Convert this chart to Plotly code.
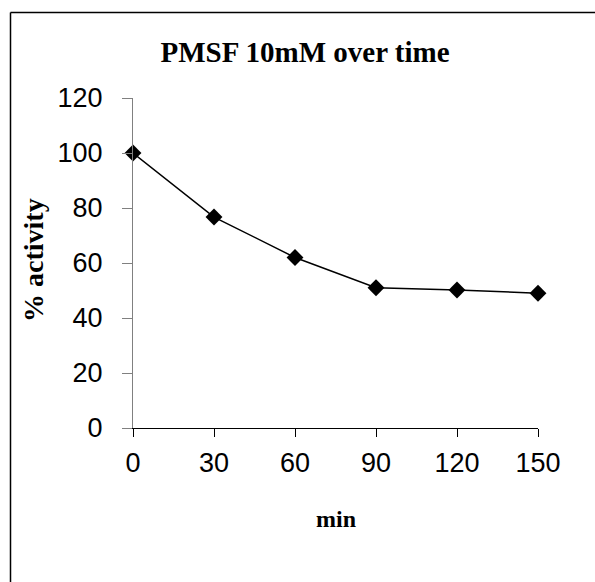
import plotly.graph_objects as go

minutes = [0, 30, 60, 90, 120, 150]
activity = [100, 76.7, 62, 51, 50.2, 49]
y_ticks = [0, 20, 40, 60, 80, 100, 120]

W, H = 595, 582
L, R, T, B = 133, 57, 98, 154
pw, ph = W - L - R, H - T - B

def px(x):
    return (x - L) / pw

def py(y):
    return (H - B - y) / ph

fig = go.Figure()
fig.add_trace(go.Scatter(
    x=minutes, y=activity, mode="lines+markers",
    line=dict(color="black", width=1.5),
    marker=dict(symbol="diamond", size=13, color="black"),
    cliponaxis=False, showlegend=False,
))

fig.update_layout(
    width=W, height=H,
    margin=dict(l=L, r=R, t=T, b=B),
    paper_bgcolor="white", plot_bgcolor="white",
    title=dict(text="<b>PMSF 10mM over time</b>", xref="container", x=305 / W,
               xanchor="center", yref="container", y=1 - 52 / H, yanchor="middle",
               font=dict(family="Liberation Serif", size=29, color="black")),
    xaxis=dict(range=[0, 150], tickvals=minutes, ticktext=[str(m) for m in minutes],
               showgrid=False, zeroline=False, showline=True, linecolor="black",
               linewidth=1, ticks="outside", ticklen=8, tickcolor="black",
               ticklabelstandoff=3,
               tickfont=dict(family="Liberation Sans", size=27, color="black")),
    yaxis=dict(range=[0, 120], tickvals=y_ticks, showgrid=False, zeroline=False,
               showline=True, linecolor="#808080", linewidth=1, ticks="outside",
               ticklen=10, tickcolor="#808080", ticklabelstandoff=14,
               tickfont=dict(family="Liberation Sans", size=27, color="black")),
    font=dict(family="Liberation Sans", color="black"),
)

fig.add_annotation(text="<b>min</b>", xref="paper", yref="paper",
                   x=px(336), y=py(519), xanchor="center", yanchor="middle",
                   showarrow=False,
                   font=dict(family="Liberation Serif", size=24, color="black"))
fig.add_annotation(text="<b>% activity</b>", xref="paper", yref="paper",
                   x=px(33), y=py(260), xanchor="center", yanchor="middle",
                   showarrow=False, textangle=-90,
                   font=dict(family="Liberation Serif", size=28, color="black"))

# figure border (only left and top edges fall inside the page)
fig.add_shape(type="line", xref="paper", yref="paper",
              x0=px(10.5), x1=px(10.5), y0=py(12.5), y1=py(700),
              line=dict(color="black", width=1.5), layer="below")
fig.add_shape(type="line", xref="paper", yref="paper",
              x0=px(10.5), x1=px(700), y0=py(12.5), y1=py(12.5),
              line=dict(color="black", width=1.5), layer="below")

fig.write_html("out.html", config={"displayModeBar": False},
               post_script="document.body.style.margin='0';document.body.style.overflow='hidden';")
